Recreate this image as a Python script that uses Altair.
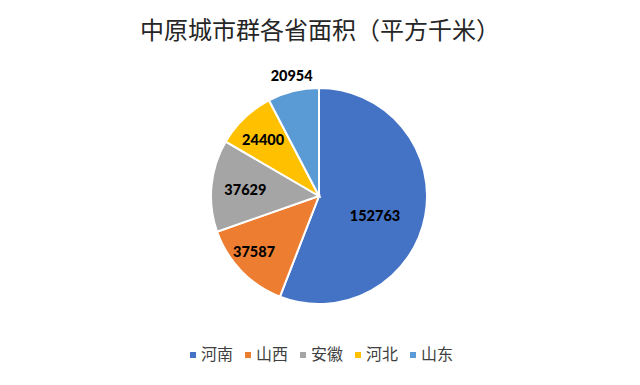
import altair as alt
import pandas as pd

provinces = ["河南", "山西", "安徽", "河北", "山东"]
areas = [152763, 37587, 37629, 24400, 20954]
colors = ["#4472C4", "#ED7D31", "#A5A5A5", "#FFC000", "#5B9BD5"]
title_text = "中原城市群各省面积（平方千米）"

df = pd.DataFrame({"省份": provinces, "面积": areas, "序号": list(range(len(provinces)))})

CX, CY, R = 311, 138, 108

base = alt.Chart(df).encode(
    theta=alt.Theta("面积:Q", stack=True),
    order=alt.Order("序号:Q", sort="ascending"),
)

pie = base.mark_arc(outerRadius=R, stroke="white", strokeWidth=2).encode(
    x=alt.value(CX),
    y=alt.value(CY),
    color=alt.Color(
        "省份:N",
        scale=alt.Scale(domain=provinces, range=colors),
        sort=provinces,
        legend=alt.Legend(
            title=None,
            orient="none",
            direction="horizontal",
            legendX=177,
            legendY=289,
            symbolType="square",
            symbolSize=36,
            symbolStrokeWidth=0,
            labelFont="Noto Sans CJK SC",
            labelFontSize=16,
            labelColor="#404040",
            columnPadding=6,
            symbolOffset=0,
            labelOffset=0,
            padding=0,
        ),
    ),
)

# label placement per slice (radius, dx, dy) -- styling only
label_style = {
    "河南": (60, -3, 10),
    "山西": (82, -6, 0),
    "安徽": (78, 4, 2),
    "河北": (78, -2, 1),
    "山东": (123, 2, 0),
}

layers = [pie]
for name, (rad, dx, dy) in label_style.items():
    layers.append(
        base.transform_calculate(
            lab=f"datum['省份'] == '{name}' ? format(datum['面积'], 'd') : ''"
        )
        .mark_text(
            radius=rad,
            dx=dx,
            dy=dy,
            font="Lato",
            fontWeight=900,
            fontSize=14.5,
            color="#000000",
        )
        .encode(x=alt.value(CX), y=alt.value(CY), text="lab:N")
    )

chart = (
    alt.layer(*layers)
    .properties(
        width=624,
        height=319,
        padding={"left": 0, "right": 0, "top": 50, "bottom": 0},
        autosize=alt.AutoSizeParams(type="none"),
        background="white",
        title=alt.TitleParams(
            title_text,
            anchor="middle",
            font="Noto Sans CJK SC",
            fontSize=24,
            fontWeight="normal",
            color="#262626",
            offset=14,
        ),
    )
    .configure_view(stroke=None)
)

chart.save("out.html", embed_options={"renderer": "svg", "actions": False})
